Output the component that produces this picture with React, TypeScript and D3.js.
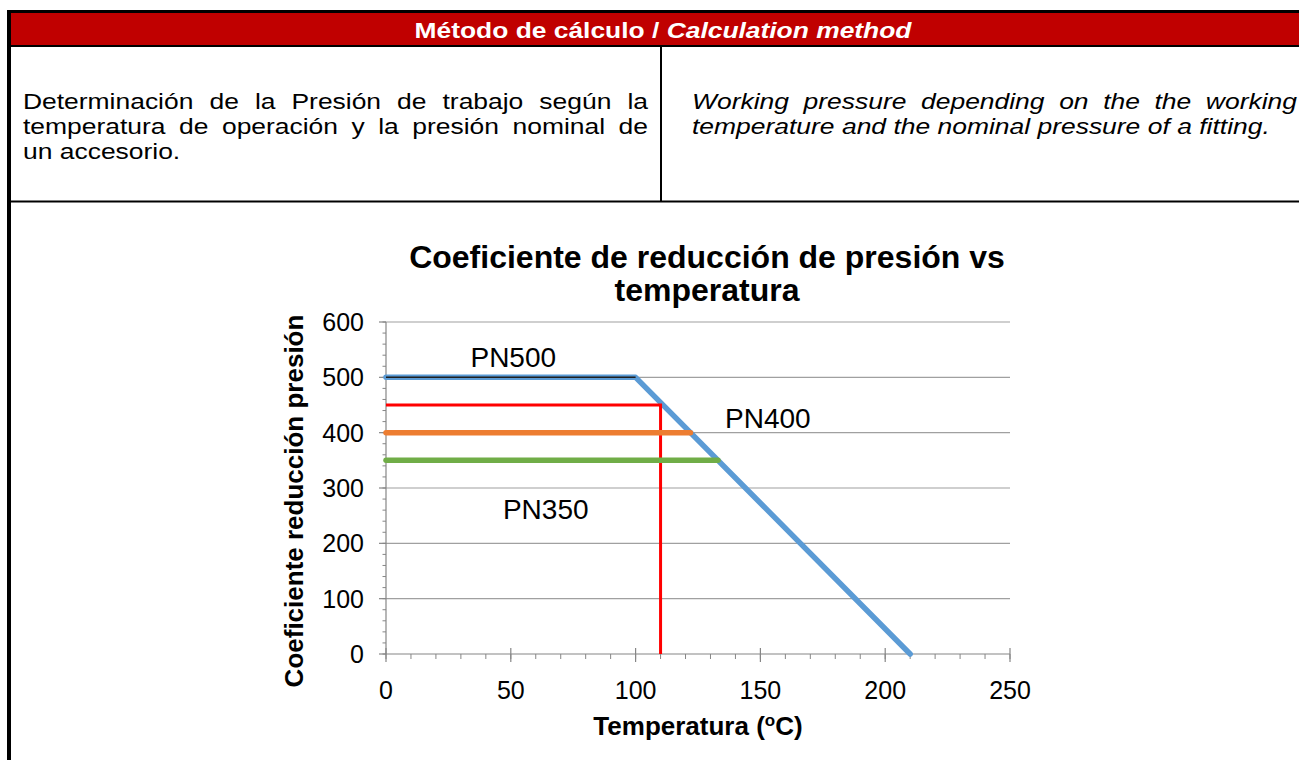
import { useEffect, useRef } from 'react';
import * as d3 from 'd3';

const W = 1299;
const H = 760;
const FONT = "'Liberation Sans', Arial, Helvetica, sans-serif";

// table texts
const headerEs = 'Método de cálculo / ';
const headerEn = 'Calculation method';
const leftLines = [
  'Determinación de la Presión de trabajo según la',
  'temperatura de operación y la presión nominal de',
  'un accesorio.',
];
const rightLines = [
  'Working pressure depending on the the working',
  'temperature and the nominal pressure of a fitting.',
];

// chart texts / ticks
const chartTitle = ['Coeficiente de reducción de presión vs', 'temperatura'];
const yTitle = 'Coeficiente reducción presión';
const xTicks = [0, 50, 100, 150, 200, 250];
const yTicks = [0, 100, 200, 300, 400, 500, 600];

// series (temperature, pressure)
const pn500Temp = [0, 100, 210];
const pn500Pres = [500, 500, 0];
const pn500BaseTemp = [0, 100];
const pn500BasePres = [500, 500];
const workTemp = [0, 110, 110];
const workPres = [450, 450, 0];
const pn400Temp = [0, 122];
const pn400Pres = [400, 400];
const pn350Temp = [0, 133];
const pn350Pres = [350, 350];

const labelNames = ['PN500', 'PN400', 'PN350'];
const labelTemp = [51, 153, 64];
const labelPres = [537, 427, 262];

export default function App() {
  const svgRef = useRef<SVGSVGElement>(null);

  useEffect(() => {
    if (!svgRef.current) return;
    const svg = d3.select(svgRef.current);
    svg.selectAll('*').remove();

    // the document text is a bit wider than plain Arial
    const SX = 1.23;

    // ---------- table ----------
    svg.append('rect').attr('x', 11).attr('y', 13).attr('width', W - 11).attr('height', 32).attr('fill', '#C00000');
    svg.append('line').attr('x1', 7).attr('x2', W).attr('y1', 11.5).attr('y2', 11.5).attr('stroke', '#000').attr('stroke-width', 3);
    svg.append('line').attr('x1', 9).attr('x2', 9).attr('y1', 10).attr('y2', H).attr('stroke', '#000').attr('stroke-width', 4);
    svg.append('line').attr('x1', 9).attr('x2', W).attr('y1', 46).attr('y2', 46).attr('stroke', '#000').attr('stroke-width', 2);
    svg.append('line').attr('x1', 661).attr('x2', 661).attr('y1', 46).attr('y2', 201).attr('stroke', '#000').attr('stroke-width', 2);
    svg.append('line').attr('x1', 9).attr('x2', W).attr('y1', 201.5).attr('y2', 201.5).attr('stroke', '#000').attr('stroke-width', 2);

    const head = svg.append('text')
      .attr('transform', `translate(663, 38) scale(1.2, 1)`)
      .attr('text-anchor', 'middle')
      .attr('font-family', FONT).attr('font-size', 22).attr('font-weight', 'bold')
      .attr('fill', '#fff');
    head.append('tspan').text(headerEs);
    head.append('tspan').attr('font-style', 'italic').text(headerEn);

    // justified paragraph lines (last line left aligned)
    const FS = 21.5;
    const justify = (lines: string[], x0: number, x1: number, y0: number, italic: boolean) => {
      lines.forEach((line, li) => {
        const words = line.split(' ');
        const y = y0 + li * 25;
        const nodes = words.map(w =>
          svg.append('text')
            .attr('font-family', FONT).attr('font-size', FS)
            .attr('font-style', italic ? 'italic' : 'normal')
            .attr('fill', '#000')
            .text(w)
        );
        const widths = nodes.map(n => (n.node() as SVGTextElement).getComputedTextLength() * SX);
        const last = li === lines.length - 1;
        const total = d3.sum(widths);
        const gap = last ? FS * 0.278 * SX : (x1 - x0 - total) / Math.max(1, words.length - 1);
        let x = x0;
        nodes.forEach((n, i) => {
          n.attr('transform', `translate(${x}, ${y}) scale(${SX}, 1)`);
          x += widths[i] + gap;
        });
      });
    };
    justify(leftLines, 23, 648, 109, false);
    justify(rightLines, 692, 1297, 109, true);

    // ---------- chart ----------
    const x = d3.scaleLinear().domain([0, 250]).range([386, 1010]);
    const y = d3.scaleLinear().domain([0, 600]).range([654, 322]);
    const g = svg.append('g');

    // gridlines
    g.selectAll('.grid').data(yTicks.filter(t => t > 0)).enter().append('line')
      .attr('x1', x(0)).attr('x2', x(250))
      .attr('y1', d => y(d)).attr('y2', d => y(d))
      .attr('stroke', '#A0A0A0').attr('stroke-width', 1.2);

    // y axis minor ticks
    g.selectAll('.ymin').data(d3.range(0, 601, 20)).enter().append('line')
      .attr('x1', x(0) - 3.5).attr('x2', x(0))
      .attr('y1', d => y(d)).attr('y2', d => y(d))
      .attr('stroke', '#868686').attr('stroke-width', 1);
    g.selectAll('.ymaj').data(yTicks).enter().append('line')
      .attr('x1', x(0) - 7).attr('x2', x(0))
      .attr('y1', d => y(d)).attr('y2', d => y(d))
      .attr('stroke', '#868686').attr('stroke-width', 1.2);
    g.append('line').attr('x1', x(0)).attr('x2', x(0)).attr('y1', y(0)).attr('y2', y(600))
      .attr('stroke', '#868686').attr('stroke-width', 1.2);

    // x axis
    g.selectAll('.xmin').data(d3.range(0, 251, 10)).enter().append('line')
      .attr('x1', d => x(d)).attr('x2', d => x(d))
      .attr('y1', y(0)).attr('y2', y(0) + 5)
      .attr('stroke', '#868686').attr('stroke-width', 1);
    g.selectAll('.xmaj').data(xTicks).enter().append('line')
      .attr('x1', d => x(d)).attr('x2', d => x(d))
      .attr('y1', y(0) - 6).attr('y2', y(0) + 8)
      .attr('stroke', '#868686').attr('stroke-width', 1.2);
    g.append('line').attr('x1', x(0)).attr('x2', x(250)).attr('y1', y(0)).attr('y2', y(0))
      .attr('stroke', '#868686').attr('stroke-width', 1.2);

    // tick labels
    g.selectAll('.ylab').data(yTicks).enter().append('text')
      .attr('x', x(0) - 22).attr('y', d => y(d) + 9)
      .attr('text-anchor', 'end')
      .attr('font-family', FONT).attr('font-size', 25).attr('fill', '#000')
      .text(d => d);
    g.selectAll('.xlab').data(xTicks).enter().append('text')
      .attr('x', d => x(d)).attr('y', y(0) + 45)
      .attr('text-anchor', 'middle')
      .attr('font-family', FONT).attr('font-size', 25).attr('fill', '#000')
      .text(d => d);

    // series
    const line = d3.line<[number, number]>().x(d => x(d[0])).y(d => y(d[1]));
    const zip = (a: number[], b: number[]) => a.map((v, i) => [v, b[i]] as [number, number]);
    const series = [
      { pts: zip(pn500Temp, pn500Pres), color: '#5B9BD5', w: 5.5 },
      { pts: zip(pn500BaseTemp, pn500BasePres), color: '#1F1F1F', w: 1.5 },
      { pts: zip(workTemp, workPres), color: '#FF0000', w: 3 },
      { pts: zip(pn400Temp, pn400Pres), color: '#ED7D31', w: 5.5 },
      { pts: zip(pn350Temp, pn350Pres), color: '#70AD47', w: 5.5 },
    ];
    series.forEach(s => {
      g.append('path')
        .attr('d', line(s.pts) as string)
        .attr('fill', 'none')
        .attr('stroke', s.color)
        .attr('stroke-width', s.w)
        .attr('stroke-linecap', s.color === '#FF0000' || s.w < 2 ? 'butt' : 'round')
        .attr('stroke-linejoin', s.color === '#FF0000' ? 'miter' : 'round');
    });

    // series labels
    labelNames.forEach((name, i) => {
      g.append('text')
        .attr('x', x(labelTemp[i])).attr('y', y(labelPres[i]) + 10)
        .attr('text-anchor', 'middle')
        .attr('font-family', FONT).attr('font-size', 28).attr('fill', '#000')
        .text(name);
    });

    // titles
    chartTitle.forEach((t, i) => {
      g.append('text')
        .attr('x', 707).attr('y', 268 + i * 33)
        .attr('text-anchor', 'middle')
        .attr('font-family', FONT).attr('font-size', 32).attr('font-weight', 'bold').attr('fill', '#000')
        .text(t);
    });

    g.append('text')
      .attr('transform', `translate(303, ${(y(0) + y(600)) / 2 + 13}) rotate(-90)`)
      .attr('text-anchor', 'middle')
      .attr('font-family', FONT).attr('font-size', 26).attr('font-weight', 'bold').attr('fill', '#000')
      .text(yTitle);

    const xt = g.append('text')
      .attr('x', 698).attr('y', 735)
      .attr('text-anchor', 'middle')
      .attr('font-family', FONT).attr('font-size', 26).attr('font-weight', 'bold').attr('fill', '#000');
    xt.append('tspan').text('Temperatura (');
    xt.append('tspan').attr('font-size', 17).attr('dy', -9).text('o');
    xt.append('tspan').attr('dy', 9).text('C)');
  }, []);

  return (
    <svg
      ref={svgRef}
      width={W}
      height={H}
      style={{ position: 'absolute', left: 0, top: 0, background: '#fff' }}
    />
  );
}
